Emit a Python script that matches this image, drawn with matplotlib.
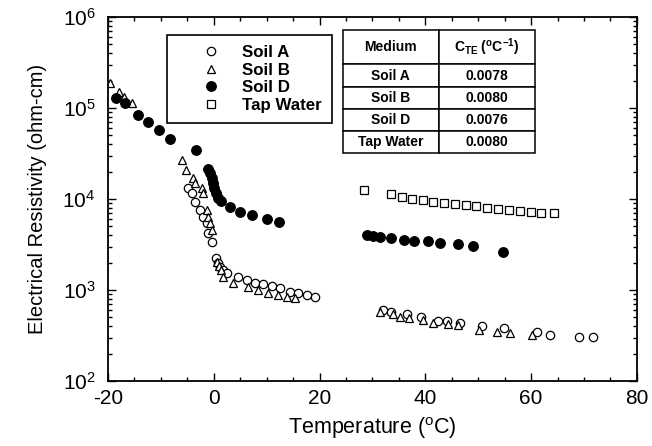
"""Electrical resistivity vs temperature for three soils and tap water (log scale)."""
import matplotlib
matplotlib.use('Agg')
import matplotlib.pyplot as plt
from matplotlib.ticker import FixedLocator, LogLocator, NullFormatter, MultipleLocator

plt.rcParams['font.family'] = ['Liberation Sans', 'DejaVu Sans']
plt.rcParams['mathtext.default'] = 'regular'

# temperature (deg C) and log10 of resistivity (ohm-cm) read per series
soil_a_t = [-4.9, -4.2, -3.6, -2.6, -2.1, -1.3, -1.1, -0.4,
            0.4, 0.8, 1.1, 1.7, 2.5, 4.5, 6.2, 7.8, 9.3, 11.0, 12.5, 14.4, 15.9, 17.6, 19.1,
            31.9, 33.6, 36.5, 39.1, 42.3, 44.0, 46.5, 50.7, 54.8, 61.1, 63.5, 69.0, 71.6]
soil_a_log = [4.12, 4.07, 3.97, 3.88, 3.80, 3.74, 3.63, 3.53,
              3.35, 3.30, 3.25, 3.22, 3.19, 3.14, 3.11, 3.08, 3.07, 3.04, 3.02, 2.98, 2.97, 2.95, 2.92,
              2.78, 2.76, 2.74, 2.70, 2.66, 2.66, 2.64, 2.60, 2.58, 2.54, 2.51, 2.48, 2.48]

soil_b_t = [-19.7, -18.0, -17.0, -15.5,
            -6.0, -5.3, -4.0, -3.6, -2.3, -2.1, -1.3, -1.1, -0.8, -0.4,
            0.6, 0.9, 1.3, 1.7, 3.6, 6.4, 8.3, 10.2, 12.1, 13.8, 15.3,
            31.4, 33.8, 35.2, 36.9, 39.5, 41.4, 44.2, 46.1, 50.1, 53.5, 56.0, 60.1]
soil_b_log = [5.27, 5.18, 5.12, 5.05,
              4.43, 4.32, 4.23, 4.18, 4.12, 4.07, 3.88, 3.80, 3.74, 3.66,
              3.31, 3.26, 3.22, 3.14, 3.08, 3.03, 3.00, 2.97, 2.95, 2.92, 2.91,
              2.76, 2.74, 2.70, 2.69, 2.67, 2.64, 2.63, 2.62, 2.56, 2.54, 2.53, 2.51]

soil_d_t = [-18.5, -16.8, -14.4, -12.5, -10.4, -8.3, -3.4,
            -1.1, -0.8, -0.4, -0.2, 0.0, 0.4, 0.8, 1.3, 3.0, 4.9, 7.2, 10.0, 12.3,
            28.9, 30.1, 31.4, 33.6, 35.9, 37.8, 40.5, 42.7, 46.1, 49.0, 54.6]
soil_d_log = [5.11, 5.05, 4.92, 4.85, 4.76, 4.66, 4.54,
              4.33, 4.29, 4.23, 4.18, 4.12, 4.07, 4.01, 3.98, 3.91, 3.86, 3.82, 3.78, 3.75,
              3.60, 3.59, 3.58, 3.57, 3.55, 3.54, 3.54, 3.52, 3.51, 3.48, 3.42]

tap_t = [28.4, 33.5, 35.5, 37.4, 39.5, 41.4, 43.5, 45.6, 47.6, 49.5, 51.6, 53.7,
         55.8, 57.8, 59.9, 61.8, 64.3]
tap_log = [4.10, 4.05, 4.02, 4.00, 3.99, 3.97, 3.96, 3.95, 3.93, 3.92, 3.90, 3.89,
           3.88, 3.87, 3.86, 3.85, 3.85]

# coefficient table
media = ['Soil A', 'Soil B', 'Soil D', 'Tap Water']
c_te = ['0.0078', '0.0080', '0.0076', '0.0080']

x_ticks = [-20, 0, 20, 40, 60, 80]
y_ticks = [1e2, 1e3, 1e4, 1e5, 1e6]
y_tick_labels = ['10$^{2}$', '10$^{3}$', '10$^{4}$', '10$^{5}$', '10$^{6}$']


def to_ohm(logs):
    return [10 ** v for v in logs]


fig = plt.figure(figsize=(6.52, 4.46), dpi=100)
ax = fig.add_axes([0.1656, 0.1457, 0.8113, 0.8161])

ax.plot(soil_a_t, to_ohm(soil_a_log), 'o', ms=6.0, mfc='white', mec='black', mew=0.9,
        label='Soil A')
ax.plot(soil_b_t, to_ohm(soil_b_log), '^', ms=6.2, mfc='white', mec='black', mew=0.9,
        label='Soil B')
ax.plot(soil_d_t, to_ohm(soil_d_log), 'o', ms=7.0, mfc='black', mec='black', mew=0.8,
        label='Soil D')
ax.plot(tap_t, to_ohm(tap_log), 's', ms=6.3, mfc='white', mec='black', mew=0.9,
        label='Tap Water')

ax.set_yscale('log')
ax.set_xlim(-20, 80)
ax.set_ylim(1e2, 1e6)

ax.xaxis.set_major_locator(FixedLocator(x_ticks))
ax.xaxis.set_minor_locator(MultipleLocator(5))
ax.set_xticklabels([str(v) for v in x_ticks])
ax.yaxis.set_major_locator(FixedLocator(y_ticks))
ax.set_yticklabels(y_tick_labels)
ax.yaxis.set_minor_locator(LogLocator(base=10, subs=range(2, 10)))
ax.yaxis.set_minor_formatter(NullFormatter())

ax.tick_params(which='both', direction='in', top=True, right=True, width=1.0,
               labelsize=15)
ax.tick_params(which='major', length=6, pad=6)
ax.tick_params(axis='y', which='major', pad=9)
ax.tick_params(which='minor', length=3)
for s in ax.spines.values():
    s.set_linewidth(1.3)

ax.set_xlabel('Temperature ($^{o}$C)', fontsize=15.5, labelpad=5)
ax.set_ylabel('Electrical Resistivity (ohm-cm)', fontsize=14.5, labelpad=11)

leg = ax.legend(loc='upper left', bbox_to_anchor=(0.112, 0.951), borderaxespad=0,
                prop={'weight': 'bold', 'size': 12.2}, handlelength=4.0,
                handletextpad=-0.2, labelspacing=0.15, borderpad=0.6,
                fancybox=False, edgecolor='black', framealpha=1, numpoints=1)
leg.get_frame().set_linewidth(1.2)

# C_TE table in the upper right
cells = [[m, c] for m, c in zip(media, c_te)]
tbl = ax.table(cellText=cells, colLabels=['Medium', 'C$_{TE}$ ($^{o}$C$^{-1}$)'],
               cellLoc='center', bbox=[0.444, 0.626, 0.363, 0.338])
tbl.auto_set_font_size(False)
tbl.set_fontsize(10)
for (r, c), cell in tbl.get_celld().items():
    cell.set_linewidth(1.1)
    cell.set_height(34 if r == 0 else 22)
    cell.get_text().set_fontweight('bold')

fig.savefig('out.png', dpi=100)
